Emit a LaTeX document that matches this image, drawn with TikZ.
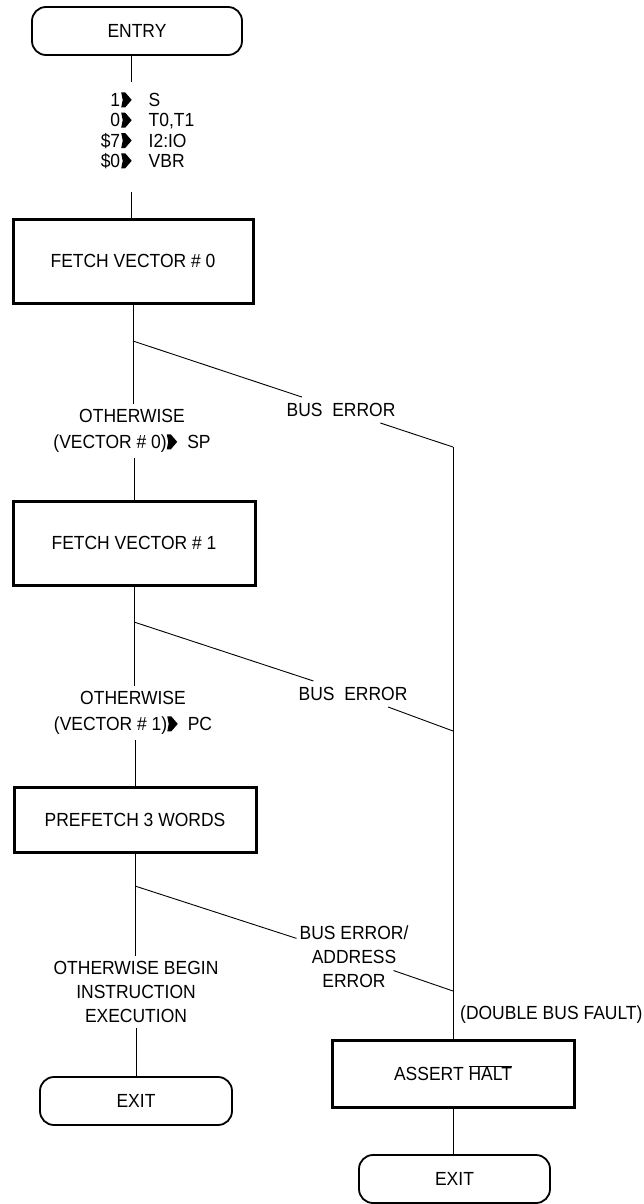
\documentclass[tikz,border=0pt]{standalone}
\usepackage{fontspec}
\setmainfont{Liberation Sans}[FakeStretch=0.92]
\newcommand\ptr{\tikz[baseline=-6.8pt,x=1pt,y=1pt]\fill (0pt,7.5pt) -- (4pt,7.5pt) -- (10.5pt,0pt) -- (4pt,-7.5pt) -- (0pt,-7.5pt) -- (1.5pt,0pt) -- cycle;}
\begin{document}
\begin{tikzpicture}[x=1pt,y=-1pt,
  font=\fontsize{19}{24}\selectfont,
  term/.style={draw,line width=1.8pt,rounded corners=14pt,inner sep=0pt},
  proc/.style={draw,line width=3pt,inner sep=0pt},
  lbl/.style={align=center,inner xsep=3pt,inner ysep=5pt},
  err/.style={align=center,inner xsep=3pt,inner ysep=6pt},
  conn/.style={line width=0.9pt}]
\useasboundingbox (0,0) rectangle (643,1204);

% main column
\node[term,minimum width=210pt,minimum height=48pt] (entry) at (137,31) {ENTRY};
\node[anchor=west,inner sep=0pt] (init) at (92,133) {\fontsize{19}{20}\selectfont\renewcommand\arraystretch{1}%
  \begin{tabular}{@{}r@{\hspace{1pt}}c@{\hspace{17pt}}l@{}}
  \makebox[28pt][r]{1}&\ptr&\makebox[60pt][l]{S}\\
  0&\ptr&T0,T1\\
  \$7&\ptr&I2:IO\\
  \$0&\ptr&VBR
  \end{tabular}};
\node[proc,minimum width=240pt,minimum height=84pt] (f0) at (133,261) {FETCH VECTOR \# 0};
\node[lbl] (ow0) at (132,431) {OTHERWISE\\[2pt](VECTOR \# 0)\ptr\hspace{10pt}SP};
\node[proc,minimum width=242pt,minimum height=84pt] (f1) at (134,543) {FETCH VECTOR \# 1};
\node[lbl] (ow1) at (133,713) {OTHERWISE\\[2pt](VECTOR \# 1)\ptr\hspace{10pt}PC};
\node[proc,minimum width=242pt,minimum height=65pt] (pre) at (135,819.5) {PREFETCH 3 WORDS};
\node[lbl] (ow2) at (136,992) {OTHERWISE BEGIN\\INSTRUCTION\\EXECUTION};
\node[term,minimum width=192pt,minimum height=48pt] (exit1) at (136,1101) {EXIT};

% error column
\node[err,text height=13.6pt,text depth=0pt] (be0) at (341,410) {BUS\ \ ERROR};
\node[err,text height=13.6pt,text depth=0pt] (be1) at (353,694) {BUS\ \ ERROR};
\node[err] (be2) at (354,957) {BUS ERROR/\\ADDRESS\\ERROR};
\node[anchor=base west,inner xsep=1pt] (dbf) at (459,1019.5) {(DOUBLE BUS FAULT)};
\node[proc,minimum width=242pt,minimum height=67pt] (halt) at (453,1073.5) {ASSERT $\overline{\mbox{HALT}}$};
\node[term,minimum width=191pt,minimum height=48pt] (exit2) at (454.5,1179) {EXIT};

% helper coordinates
\coordinate (ia) at (131,82);
\coordinate (ib) at (131,192);
\coordinate (b0) at (f0.south |- 0,341);
\coordinate (b1) at (f1.south |- 0,622);
\coordinate (b2) at (pre.south |- 0,886);
\coordinate (c0) at (453,447);
\coordinate (c1) at (453,731);
\coordinate (c2) at (453,991);

% connectors
\draw[conn] (entry.south -| ia) -- (ia);
\draw[conn] (ib) -- (ib |- f0.north);
\draw[conn] (f0.south) -- (ow0.north -| f0.south);
\draw[conn] (ow0.south -| f1.north) -- (f1.north);
\draw[conn] (f1.south) -- (ow1.north -| f1.south);
\draw[conn] (ow1.south -| pre.north) -- (pre.north);
\draw[conn] (pre.south) -- (ow2.north -| pre.south);
\draw[conn] (ow2.south) -- (exit1.north);
\draw[conn] (b0) -- (be0);
\draw[conn] (be0) -- (c0);
\draw[conn] (b1) -- (be1);
\draw[conn] (be1) -- (c1);
\draw[conn] (b2) -- (be2);
\draw[conn,shorten <=-19pt] (be2) -- (c2);
\draw[conn] (c0) -- (halt.north);
\draw[conn] (halt.south) -- (exit2.north -| halt.south);
\end{tikzpicture}
\end{document}
